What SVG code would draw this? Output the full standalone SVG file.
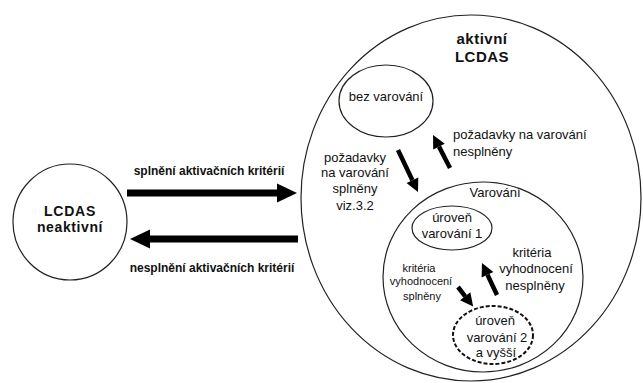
<svg xmlns="http://www.w3.org/2000/svg" width="643" height="383" viewBox="0 0 643 383">
<style>
.n{fill:#fff;stroke:#222;stroke-width:1.2}
.d{fill:#fff;stroke:#111;stroke-width:2;stroke-dasharray:4 2}
.t{font-family:"Liberation Sans",Arial,sans-serif;fill:#111;text-anchor:middle}
.b{font-weight:bold}
.l{text-anchor:start}
.big{stroke:#000;stroke-width:7;fill:none}
.sm{stroke:#000;stroke-width:4.5;fill:none}
</style>
<defs>
<marker id="hb" markerUnits="userSpaceOnUse" viewBox="0 -10 20 20" markerWidth="20" markerHeight="20" refX="0" refY="0" orient="auto" overflow="visible"><path d="M0,-9.5 L20,0 L0,9.5 z" fill="#000"/></marker>
<marker id="hs" markerUnits="userSpaceOnUse" viewBox="0 -7 13 14" markerWidth="13" markerHeight="14" refX="0" refY="0" orient="auto" overflow="visible"><path d="M0,-6.5 L13,0 L0,6.5 z" fill="#000"/></marker>
</defs>
<rect width="643" height="383" fill="#fff"/>
<g id="aktivni">
<ellipse class="n" cx="471" cy="198" rx="170" ry="183"/>
<text class="t b" x="482" y="44" font-size="15" letter-spacing="0.5">aktivní</text>
<text class="t b" x="482" y="62" font-size="15" letter-spacing="0.5">LCDAS</text>
</g>
<g id="neaktivni">
<ellipse class="n" cx="70" cy="222" rx="57" ry="58"/>
<text class="t b" x="70" y="216" font-size="14" letter-spacing="0.8">LCDAS</text>
<text class="t b" x="70" y="232" font-size="14" letter-spacing="0.6">neaktivní</text>
</g>
<g id="bez">
<ellipse class="n" cx="386" cy="101" rx="47" ry="36"/>
<text class="t" x="386" y="101" font-size="13">bez varování</text>
</g>
<g id="varovani">
<ellipse class="n" cx="483" cy="277" rx="100" ry="95"/>
<text class="t" x="495" y="197" font-size="13">Varování</text>
</g>
<g id="uroven1">
<ellipse class="n" cx="452" cy="228" rx="40" ry="22"/>
<text class="t" x="452" y="222" font-size="13">úroveň</text>
<text class="t" x="452" y="238" font-size="13">varování 1</text>
</g>
<g id="uroven2">
<ellipse class="d" cx="493" cy="335" rx="40" ry="29"/>
<text class="t" x="495" y="325" font-size="13">úroveň</text>
<text class="t" x="497" y="342" font-size="13">varování 2</text>
<text class="t" x="496" y="357" font-size="13">a vyšší</text>
</g>
<g id="connectors">
<line class="big" x1="127" y1="193" x2="277" y2="193" marker-end="url(#hb)"/>
<line class="big" x1="298" y1="239" x2="150" y2="239" marker-end="url(#hb)"/>
<line class="sm" x1="398" y1="150" x2="412.4" y2="180.3" marker-end="url(#hs)"/>
<line class="sm" x1="450" y1="168" x2="439" y2="146.6" marker-end="url(#hs)"/>
<line class="sm" x1="458" y1="287" x2="465.2" y2="296.3" marker-end="url(#hs)"/>
<line class="sm" x1="497" y1="295" x2="487.5" y2="274.8" marker-end="url(#hs)"/>
<text class="t b" x="209" y="175" font-size="12">splnění aktivačních kritérií</text>
<text class="t b" x="212" y="272" font-size="12">nesplnění aktivačních kritérií</text>
<text class="t l" x="453" y="139" font-size="13">požadavky na varování</text>
<text class="t l" x="453" y="156" font-size="13">nesplněny</text>
<text class="t" x="355" y="162" font-size="13">požadavky</text>
<text class="t" x="355" y="177" font-size="13">na varování</text>
<text class="t" x="355" y="193" font-size="13">splněny</text>
<text class="t" x="355" y="210" font-size="13">viz.3.2</text>
<text class="t" x="419" y="272" font-size="11">kritéria</text>
<text class="t" x="421" y="285" font-size="11">vyhodnocení</text>
<text class="t" x="422" y="300" font-size="11">splněny</text>
<text class="t" x="532" y="257" font-size="13">kritéria</text>
<text class="t" x="536" y="273" font-size="13">vyhodnocení</text>
<text class="t" x="535" y="290" font-size="13">nesplněny</text>
</g>
</svg>
